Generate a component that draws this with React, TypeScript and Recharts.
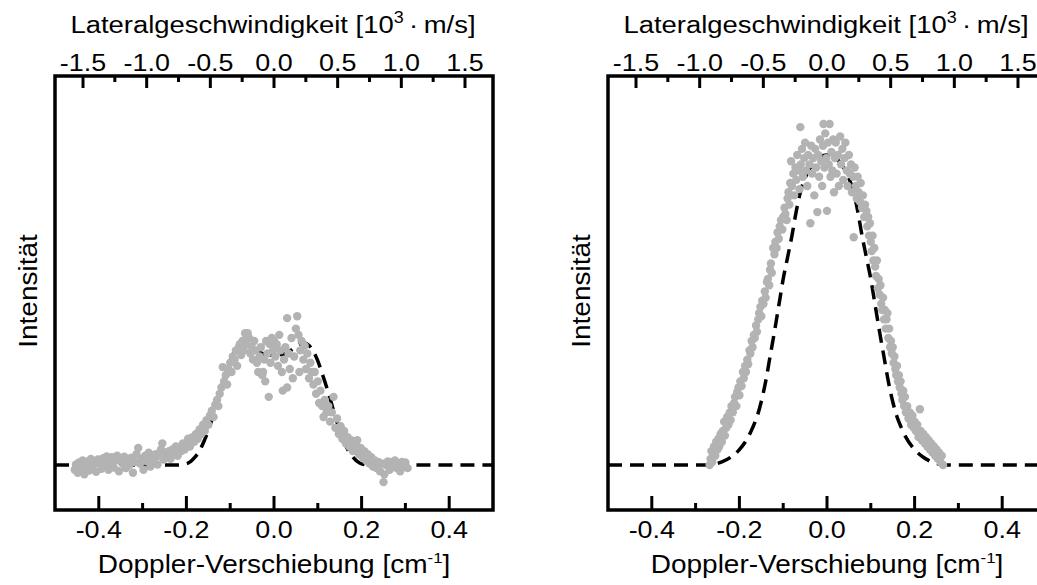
import React from 'react';
import {
  ComposedChart,
  Scatter,
  Line,
  XAxis,
  YAxis,
  ReferenceArea,
} from 'recharts';

// bottom axis: Doppler shift [cm^-1], top axis: lateral speed [10^3 m/s]
const dopplerTicks = [-0.4, -0.3, -0.2, -0.1, 0, 0.1, 0.2, 0.3, 0.4];
const speedTicks = [-1.5, -1.25, -1, -0.75, -0.5, -0.25, 0, 0.25, 0.5, 0.75, 1, 1.25, 1.5];
const SPEED_PER_CM = 3.44; // 10^3 m/s per cm^-1

// left panel, measured points
const leftPoints: [number, number][] = [
  [-0.455, -0.015], [-0.452, 0.002], [-0.448, -0.025], [-0.445, 0.008], [-0.44, -0.01], [-0.437, 0.015],
  [-0.433, -0.03], [-0.43, 0.0], [-0.426, 0.012], [-0.422, -0.018], [-0.418, 0.02], [-0.414, -0.005],
  [-0.41, 0.01], [-0.406, -0.022], [-0.402, 0.018], [-0.398, 0.004], [-0.394, -0.012], [-0.39, 0.022],
  [-0.386, 0.0], [-0.382, 0.028], [-0.378, -0.015], [-0.374, 0.01], [-0.37, 0.025], [-0.366, -0.008],
  [-0.362, 0.015], [-0.358, 0.03], [-0.354, -0.02], [-0.35, 0.012], [-0.346, 0.005], [-0.342, 0.027],
  [-0.338, -0.01], [-0.334, 0.018], [-0.33, 0.0], [-0.326, 0.024], [-0.322, -0.025], [-0.318, 0.01],
  [-0.314, 0.035], [-0.31, 0.055], [-0.306, 0.005], [-0.302, 0.02], [-0.298, -0.015], [-0.294, 0.03],
  [-0.29, 0.012], [-0.286, 0.04], [-0.282, -0.005], [-0.278, 0.025], [-0.274, 0.015], [-0.27, 0.035],
  [-0.266, 0.002], [-0.262, 0.03], [-0.258, 0.05], [-0.255, 0.07], [-0.252, 0.018], [-0.248, 0.04],
  [-0.244, 0.025], [-0.24, 0.045], [-0.236, 0.02], [-0.232, 0.05], [-0.228, 0.035], [-0.224, 0.06],
  [-0.22, 0.03], [-0.216, 0.055], [-0.212, 0.045], [-0.208, 0.07], [-0.204, 0.05], [-0.2, 0.065],
  [-0.196, 0.085], [-0.192, 0.06], [-0.19, 0.072], [-0.186, 0.09], [-0.182, 0.075], [-0.178, 0.1],
  [-0.174, 0.085], [-0.17, 0.115], [-0.166, 0.1], [-0.162, 0.13], [-0.158, 0.11], [-0.154, 0.145],
  [-0.15, 0.13], [-0.146, 0.16], [-0.142, 0.175], [-0.138, 0.155], [-0.134, 0.195], [-0.13, 0.21],
  [-0.127, 0.19], [-0.124, 0.23], [-0.12, 0.25], [-0.117, 0.316], [-0.114, 0.27], [-0.11, 0.29],
  [-0.107, 0.26], [-0.104, 0.31], [-0.1, 0.33], [-0.097, 0.3], [-0.094, 0.35], [-0.09, 0.34],
  [-0.087, 0.37], [-0.084, 0.32], [-0.08, 0.38], [-0.078, 0.39], [-0.075, 0.355], [-0.072, 0.4],
  [-0.069, 0.37], [-0.066, 0.425], [-0.063, 0.39], [-0.06, 0.425], [-0.057, 0.41], [-0.054, 0.36],
  [-0.051, 0.38], [-0.048, 0.34], [-0.045, 0.4], [-0.042, 0.37], [-0.039, 0.33], [-0.036, 0.3],
  [-0.033, 0.35], [-0.03, 0.38], [-0.027, 0.29], [-0.025, 0.3], [-0.022, 0.34], [-0.02, 0.27],
  [-0.018, 0.4], [-0.015, 0.36], [-0.012, 0.22], [-0.01, 0.39], [-0.008, 0.33], [-0.005, 0.41],
  [-0.002, 0.37], [0.0, 0.4], [0.003, 0.35], [0.006, 0.39], [0.009, 0.32], [0.012, 0.42],
  [0.015, 0.37], [0.018, 0.3], [0.02, 0.24], [0.023, 0.34], [0.026, 0.38], [0.03, 0.474],
  [0.03, 0.25], [0.033, 0.36], [0.036, 0.31], [0.04, 0.41], [0.043, 0.28], [0.046, 0.35],
  [0.05, 0.44], [0.053, 0.48], [0.056, 0.42], [0.058, 0.3], [0.06, 0.37], [0.063, 0.4],
  [0.067, 0.34], [0.07, 0.385], [0.073, 0.31], [0.076, 0.36], [0.08, 0.28], [0.083, 0.33],
  [0.086, 0.3], [0.09, 0.26], [0.093, 0.3], [0.096, 0.23], [0.1, 0.27], [0.103, 0.2],
  [0.106, 0.24], [0.11, 0.19], [0.113, 0.155], [0.116, 0.21], [0.12, 0.17], [0.124, 0.19],
  [0.128, 0.14], [0.132, 0.17], [0.136, 0.22], [0.14, 0.12], [0.144, 0.15], [0.148, 0.1],
  [0.152, 0.125], [0.156, 0.085], [0.16, 0.11], [0.164, 0.07], [0.168, 0.09], [0.172, 0.06],
  [0.176, 0.08], [0.18, 0.045], [0.184, 0.065], [0.188, 0.05], [0.19, 0.08], [0.194, 0.035],
  [0.198, 0.055], [0.202, 0.025], [0.206, 0.045], [0.21, 0.015], [0.214, 0.035], [0.218, 0.005],
  [0.222, 0.025], [0.226, -0.005], [0.23, 0.015], [0.234, -0.01], [0.238, 0.01], [0.242, -0.02],
  [0.246, 0.005], [0.25, -0.055], [0.252, -0.03], [0.256, 0.0], [0.26, 0.012], [0.264, -0.015],
  [0.268, 0.008], [0.272, -0.005], [0.276, 0.015], [0.28, -0.01], [0.284, 0.005], [0.288, -0.02],
  [0.292, 0.01], [0.296, -0.005], [0.3, 0.008], [0.305, -0.01],
];

// left panel, fitted profile (dashed)
const leftFit: [number, number][] = [
  [-0.5, 0], [-0.22, 0], [-0.2, 0.004], [-0.19, 0.012], [-0.18, 0.026], [-0.17, 0.046], [-0.16, 0.076],
  [-0.15, 0.112], [-0.14, 0.155], [-0.13, 0.205], [-0.12, 0.252], [-0.11, 0.295], [-0.1, 0.336],
  [-0.09, 0.366], [-0.08, 0.386], [-0.07, 0.394], [-0.06, 0.391], [-0.05, 0.382], [-0.04, 0.371],
  [-0.03, 0.362], [-0.02, 0.357], [-0.01, 0.355], [0, 0.354], [0.01, 0.355], [0.02, 0.357],
  [0.03, 0.362], [0.04, 0.371], [0.05, 0.382], [0.06, 0.391], [0.07, 0.394], [0.08, 0.386],
  [0.09, 0.366], [0.1, 0.336], [0.11, 0.295], [0.12, 0.252], [0.13, 0.205], [0.14, 0.155],
  [0.15, 0.112], [0.16, 0.076], [0.17, 0.046], [0.18, 0.026], [0.19, 0.012], [0.2, 0.004],
  [0.22, 0], [0.5, 0],
];

// left panel, smoothed data (thin white)
const leftSmooth: [number, number][] = [
  [-0.3, 0], [-0.28, 0.003], [-0.26, 0.007], [-0.24, 0.013], [-0.22, 0.024], [-0.2, 0.04],
  [-0.18, 0.062], [-0.16, 0.09], [-0.14, 0.125], [-0.12, 0.168], [-0.1, 0.218], [-0.08, 0.272],
  [-0.06, 0.322], [-0.04, 0.362], [-0.02, 0.39], [0, 0.4], [0.02, 0.39], [0.04, 0.362],
  [0.06, 0.32], [0.08, 0.269], [0.1, 0.216], [0.12, 0.164], [0.14, 0.119], [0.16, 0.082],
  [0.18, 0.054], [0.2, 0.034], [0.22, 0.02], [0.24, 0.01], [0.26, 0.004], [0.28, 0],
];

// right panel, measured points
const rightPoints: [number, number][] = [
  [-0.268, 0.0], [-0.266, 0.02], [-0.264, 0.045], [-0.262, 0.01], [-0.26, 0.035], [-0.258, 0.06],
  [-0.255, 0.03], [-0.253, 0.075], [-0.25, 0.05], [-0.248, 0.085], [-0.246, 0.06], [-0.243, 0.1],
  [-0.24, 0.075], [-0.238, 0.11], [-0.235, 0.14], [-0.233, 0.095], [-0.23, 0.12], [-0.228, 0.155],
  [-0.225, 0.13], [-0.222, 0.17], [-0.22, 0.145], [-0.218, 0.19], [-0.215, 0.17], [-0.212, 0.2],
  [-0.21, 0.22], [-0.207, 0.19], [-0.205, 0.235], [-0.202, 0.25], [-0.2, 0.225], [-0.198, 0.27],
  [-0.195, 0.255], [-0.192, 0.3], [-0.19, 0.28], [-0.187, 0.32], [-0.185, 0.3], [-0.182, 0.34],
  [-0.18, 0.325], [-0.177, 0.37], [-0.175, 0.36], [-0.172, 0.4], [-0.17, 0.38], [-0.167, 0.42],
  [-0.165, 0.41], [-0.162, 0.45], [-0.16, 0.43], [-0.157, 0.47], [-0.155, 0.49], [-0.152, 0.51],
  [-0.15, 0.48], [-0.148, 0.53], [-0.145, 0.52], [-0.142, 0.56], [-0.14, 0.54], [-0.137, 0.59],
  [-0.135, 0.6], [-0.132, 0.58], [-0.13, 0.63], [-0.128, 0.65], [-0.126, 0.62], [-0.123, 0.7],
  [-0.12, 0.68], [-0.118, 0.72], [-0.115, 0.7], [-0.113, 0.75], [-0.11, 0.73], [-0.108, 0.77],
  [-0.105, 0.79], [-0.102, 0.76], [-0.1, 0.8], [-0.097, 0.83], [-0.095, 0.81], [-0.092, 0.79],
  [-0.09, 0.86], [-0.088, 0.88], [-0.086, 0.84], [-0.084, 0.91], [-0.082, 0.98], [-0.08, 0.9],
  [-0.077, 0.94], [-0.075, 0.87], [-0.072, 0.96], [-0.07, 0.92], [-0.068, 1.0], [-0.065, 0.95],
  [-0.063, 0.89], [-0.061, 1.09], [-0.06, 0.97], [-0.057, 1.02], [-0.055, 0.93], [-0.052, 0.99],
  [-0.05, 1.04], [-0.048, 0.95], [-0.045, 0.9], [-0.043, 1.0], [-0.04, 0.97], [-0.038, 0.78],
  [-0.036, 1.03], [-0.034, 0.94], [-0.031, 0.99], [-0.029, 0.87], [-0.027, 1.02], [-0.025, 0.96],
  [-0.022, 0.816], [-0.02, 1.0], [-0.018, 0.93], [-0.016, 1.05], [-0.013, 0.98], [-0.011, 0.9],
  [-0.009, 1.03], [-0.008, 1.1], [-0.006, 0.96], [-0.004, 1.07], [-0.002, 0.99], [0.0, 0.82],
  [0.002, 1.04], [0.004, 0.97], [0.006, 1.1], [0.008, 0.93], [0.01, 1.01], [0.012, 0.95],
  [0.014, 1.05], [0.016, 0.88], [0.018, 0.99], [0.02, 1.04], [0.022, 0.94], [0.025, 1.0],
  [0.027, 0.9], [0.03, 1.06], [0.032, 0.97], [0.035, 1.02], [0.037, 0.92], [0.04, 0.99],
  [0.042, 1.04], [0.045, 0.95], [0.047, 0.9], [0.05, 1.0], [0.052, 0.94], [0.055, 0.97],
  [0.057, 0.88], [0.06, 0.93], [0.061, 0.735], [0.063, 0.96], [0.066, 0.9], [0.068, 0.86],
  [0.07, 0.93], [0.072, 0.88], [0.075, 0.85], [0.077, 0.91], [0.08, 0.83], [0.082, 0.87],
  [0.085, 0.8], [0.087, 0.84], [0.09, 0.82], [0.092, 0.77], [0.094, 0.8], [0.096, 0.74],
  [0.098, 0.78], [0.1, 0.72], [0.102, 0.69], [0.104, 0.74], [0.106, 0.66], [0.108, 0.7],
  [0.11, 0.64], [0.112, 0.61], [0.114, 0.66], [0.116, 0.57], [0.118, 0.6], [0.12, 0.55],
  [0.122, 0.58], [0.124, 0.52], [0.126, 0.5], [0.128, 0.54], [0.13, 0.47], [0.132, 0.5],
  [0.134, 0.44], [0.136, 0.47], [0.138, 0.49], [0.14, 0.41], [0.142, 0.44], [0.144, 0.38],
  [0.146, 0.4], [0.148, 0.36], [0.15, 0.38], [0.152, 0.33], [0.154, 0.35], [0.156, 0.31],
  [0.158, 0.29], [0.16, 0.32], [0.162, 0.27], [0.164, 0.29], [0.166, 0.25], [0.168, 0.27],
  [0.17, 0.23], [0.172, 0.21], [0.174, 0.24], [0.176, 0.19], [0.178, 0.22], [0.18, 0.17],
  [0.183, 0.19], [0.186, 0.15], [0.189, 0.17], [0.192, 0.13], [0.195, 0.16], [0.198, 0.12],
  [0.2, 0.14], [0.203, 0.11], [0.206, 0.13], [0.209, 0.09], [0.212, 0.18], [0.214, 0.11],
  [0.217, 0.08], [0.22, 0.1], [0.223, 0.07], [0.226, 0.09], [0.229, 0.06], [0.232, 0.08],
  [0.235, 0.05], [0.238, 0.07], [0.241, 0.04], [0.244, 0.06], [0.247, 0.03], [0.25, 0.05],
  [0.253, 0.02], [0.256, 0.04], [0.259, 0.01], [0.262, 0.03], [0.265, 0.0],
];

// right panel, fitted profile (dashed)
const rightFit: [number, number][] = [
  [-0.5, 0], [-0.28, 0], [-0.26, 0.002], [-0.24, 0.01], [-0.22, 0.025], [-0.2, 0.05], [-0.18, 0.09],
  [-0.17, 0.12], [-0.16, 0.155], [-0.15, 0.205], [-0.14, 0.27], [-0.13, 0.35], [-0.12, 0.43],
  [-0.11, 0.515], [-0.1, 0.6], [-0.09, 0.67], [-0.08, 0.74], [-0.07, 0.82], [-0.06, 0.885],
  [-0.05, 0.925], [-0.04, 0.955], [-0.03, 0.975], [-0.02, 0.99], [-0.01, 0.998], [0, 1.0],
  [0.01, 0.998], [0.02, 0.99], [0.03, 0.975], [0.04, 0.955], [0.05, 0.925], [0.06, 0.885],
  [0.07, 0.82], [0.08, 0.74], [0.09, 0.67], [0.1, 0.6], [0.11, 0.515], [0.12, 0.43], [0.13, 0.35],
  [0.14, 0.27], [0.15, 0.205], [0.16, 0.155], [0.17, 0.12], [0.18, 0.09], [0.2, 0.05], [0.22, 0.025],
  [0.24, 0.01], [0.26, 0.002], [0.28, 0], [0.5, 0],
];

// right panel, smoothed data (thin white)
const rightSmooth: [number, number][] = [
  [-0.27, 0.0], [-0.25, 0.05], [-0.23, 0.12], [-0.21, 0.2], [-0.19, 0.29], [-0.17, 0.39],
  [-0.15, 0.5], [-0.13, 0.61], [-0.11, 0.72], [-0.09, 0.83], [-0.07, 0.92], [-0.05, 0.97],
  [-0.03, 1.0], [-0.01, 1.01], [0.01, 1.0], [0.03, 0.98], [0.05, 0.95], [0.07, 0.9],
  [0.09, 0.82], [0.11, 0.69], [0.13, 0.55], [0.15, 0.41], [0.17, 0.28], [0.19, 0.18],
  [0.21, 0.12], [0.23, 0.075], [0.25, 0.04], [0.265, 0.005],
];

const FONT = '"Liberation Sans", Arial, Helvetica, sans-serif';
const SX = 1.12; // the original lettering is a little wide
const Y_MIN = -0.145;
const Y_MAX = 1.255;
const CHART_W = 520;
const CHART_H = 585;
// axes are 1px tall/wide so the plot box sits at x 55..493, y 76..510
const MARGIN = { top: 75, right: 27, bottom: 74, left: 54 };
const CX = 55 + (CHART_W - 55 - 27) / 2;
const THIN = '\u2009';

// top ticks live on the Doppler scale, placed at speed / SPEED_PER_CM
const topTickPos = speedTicks.map((v) => v / SPEED_PER_CM);

const toXY = (pts: [number, number][]) => pts.map(([x, y]) => ({ x, y }));

const Txt = ({ tx, ty, size, rot = 0, children }: any) => (
  <text
    transform={`translate(${tx} ${ty}) rotate(${rot}) scale(${SX} 1)`}
    textAnchor="middle"
    fontSize={size}
    fontFamily={FONT}
    fill="#000"
  >
    {children}
  </text>
);

const BottomTick = (props: any) => {
  const { x, y, payload } = props;
  const v = payload.value;
  const major = Math.abs(Math.round(v * 10)) % 2 === 0;
  return (
    <g>
      <line x1={x} x2={x} y1={y} y2={y - (major ? 14 : 7)} stroke="#000" strokeWidth={3} />
      {major && <Txt tx={x} ty={y + 28} size={24}>{v.toFixed(1)}</Txt>}
    </g>
  );
};

const TopTick = (props: any) => {
  const { x, y, payload } = props;
  const speed = payload.value * SPEED_PER_CM;
  const major = Math.abs(Math.round(speed * 4)) % 2 === 0;
  const label = (Math.round(speed * 10) / 10).toFixed(1);
  return (
    <g>
      <line x1={x} x2={x} y1={y} y2={y + (major ? 12 : 6)} stroke="#000" strokeWidth={3} />
      {major && <Txt tx={x} ty={y - 5} size={24}>{label === '-0.0' ? '0.0' : label}</Txt>}
    </g>
  );
};

const Panel = ({ points, fit, smooth }: any) => (
  <ComposedChart width={CHART_W} height={CHART_H} margin={MARGIN}>
    <XAxis
      xAxisId="b"
      dataKey="x"
      type="number"
      domain={[-0.5, 0.5]}
      allowDataOverflow
      ticks={dopplerTicks}
      interval={0}
      tick={BottomTick}
      tickLine={false}
      axisLine={false}
      tickSize={0}
      tickMargin={0}
      height={1}
      label={() => (
        <Txt tx={CX} ty={573} size={25}>
          Doppler-Verschiebung [cm
          <tspan dy={-10} fontSize={15}>-1</tspan>
          <tspan dy={10}>]</tspan>
        </Txt>
      )}
    />
    <XAxis
      xAxisId="t"
      orientation="top"
      dataKey="x"
      type="number"
      domain={[-0.5, 0.5]}
      allowDataOverflow
      ticks={topTickPos}
      interval={0}
      tick={TopTick}
      tickLine={false}
      axisLine={false}
      tickSize={0}
      tickMargin={0}
      height={1}
      label={() => (
        <Txt tx={CX - 1} ty={33} size={24.5}>
          Lateralgeschwindigkeit [10
          <tspan dy={-10} fontSize={16}>3</tspan>
          <tspan dy={10}>{`${THIN}·${THIN}m/s]`}</tspan>
        </Txt>
      )}
    />
    <YAxis
      dataKey="y"
      type="number"
      domain={[Y_MIN, Y_MAX]}
      allowDataOverflow
      tick={false}
      tickLine={false}
      axisLine={false}
      width={1}
      label={() => (
        <Txt tx={37} ty={291} size={25} rot={-90}>
          Intensität
        </Txt>
      )}
    />
    <Scatter
      xAxisId="b"
      data={toXY(points)}
      isAnimationActive={false}
      shape={(p: any) => <circle cx={p.cx} cy={p.cy} r={4.2} fill="#b3b3b3" />}
    />
    <Line
      xAxisId="t"
      data={toXY(smooth)}
      dataKey="y"
      type="monotone"
      stroke="#ffffff"
      strokeWidth={1}
      dot={false}
      activeDot={false}
      isAnimationActive={false}
    />
    <Line
      xAxisId="b"
      data={toXY(fit)}
      dataKey="y"
      type="monotone"
      stroke="#000"
      strokeWidth={3.5}
      strokeDasharray="14 8"
      dot={false}
      activeDot={false}
      isAnimationActive={false}
    />
    <ReferenceArea
      xAxisId="b"
      x1={-0.5}
      x2={0.5}
      y1={Y_MIN}
      y2={Y_MAX}
      fill="none"
      fillOpacity={0}
      stroke="#000"
      strokeWidth={3.5}
      ifOverflow="visible"
    />
  </ComposedChart>
);

const App = () => (
  <div
    style={{
      position: 'absolute',
      left: 0,
      top: 0,
      width: 1037,
      height: 585,
      overflow: 'hidden',
      background: '#fff',
    }}
  >
    <div style={{ position: 'absolute', left: 0, top: 0 }}>
      <Panel points={leftPoints} fit={leftFit} smooth={leftSmooth} />
    </div>
    <div style={{ position: 'absolute', left: 553, top: 0 }}>
      <Panel points={rightPoints} fit={rightFit} smooth={rightSmooth} />
    </div>
  </div>
);

export default App;
